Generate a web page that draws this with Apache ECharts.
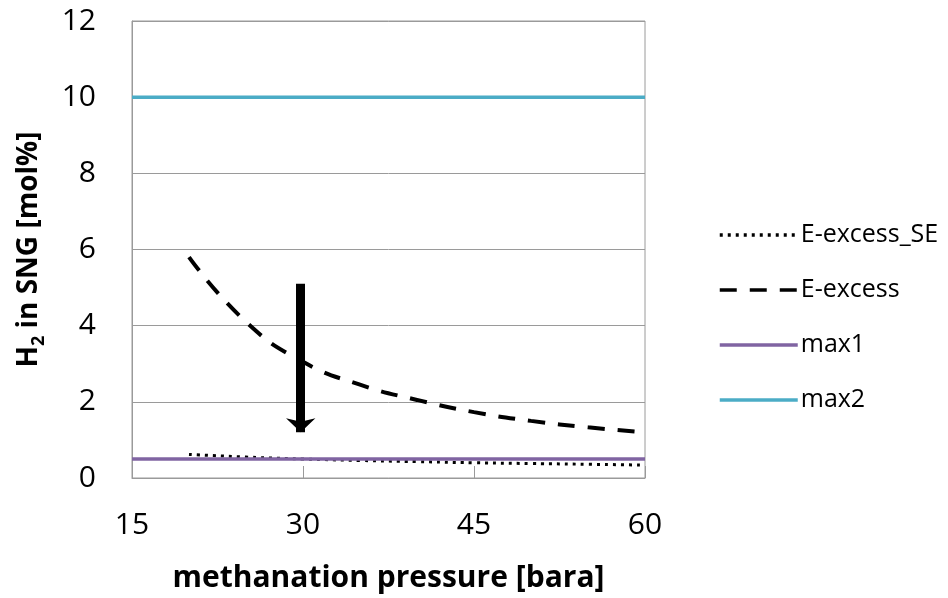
<!DOCTYPE html>
<html><head><meta charset="utf-8">
<script src="https://cdn.jsdelivr.net/npm/echarts@6/dist/echarts.min.js"></script>
<style>html,body{margin:0;padding:0;background:#fff}#c{width:948px;height:598px}</style>
</head><body><div id="c"></div>
<script>
const pressure = [20, 25, 30, 35, 40, 45, 50, 55, 60];
const eExcessSE = [0.62, 0.55, 0.50, 0.46, 0.43, 0.40, 0.38, 0.36, 0.34];
const eExcess = [5.8, 4.1, 3.05, 2.45, 2.05, 1.73, 1.5, 1.33, 1.2];
const max1X = [15, 60];
const max1 = [0.5, 0.5];
const max2X = [15, 60];
const max2 = [10, 10];
const arrowX = [29.8, 29.8];
const arrowY = [5.1, 1.2];
const xTicks = [15, 30, 45, 60];

const F = '"Open Sans", Lato, sans-serif';
const pair = (xs, ys) => xs.map((x, i) => [x, ys[i]]);
const chart = echarts.init(document.getElementById('c'));
chart.setOption({
  animation: false,
  textStyle: { fontFamily: F },
  grid: { left: 132, right: 303, top: 21, bottom: 117, show: true, borderColor: '#9a9a9a', borderWidth: 1 },
  legend: {
    orient: 'vertical', left: 713, top: 215, itemWidth: 78, itemHeight: 20, itemGap: 25,
    textStyle: { fontSize: 25, lineHeight: 30, color: '#000', fontFamily: F, padding: [0, 0, 0, -2] },
    itemStyle: { color: 'transparent', borderColor: 'transparent', borderWidth: 0, opacity: 0 },
    lineStyle: { width: 3.5 },
    data: ['E-excess_SE', 'E-excess', 'max1', 'max2']
  },
  xAxis: {
    type: 'value', min: xTicks[0], max: xTicks[xTicks.length - 1], interval: 15,
    name: 'methanation pressure [bara]', nameLocation: 'middle', nameGap: 85,
    nameTextStyle: { fontSize: 30, fontWeight: 'bold', color: '#000', fontFamily: F },
    axisLine: { lineStyle: { color: '#9a9a9a' } },
    axisTick: { show: true, inside: true, length: 12, lineStyle: { color: '#9a9a9a' } },
    axisLabel: { fontSize: 30, color: '#000', margin: 32 },
    splitLine: { show: false }
  },
  yAxis: {
    type: 'value', min: 0, max: 12, interval: 2,
    name: '{b|H}{s|2}{b| in SNG [mol%]}', nameLocation: 'middle', nameGap: 89, nameRotate: 90,
    nameTextStyle: { rich: {
      b: { fontSize: 28, fontWeight: 'bold', color: '#000', fontFamily: F, verticalAlign: 'bottom' },
      s: { fontSize: 18, fontWeight: 'bold', color: '#000', fontFamily: F, verticalAlign: 'bottom', padding: [0, 0, -5, 0] }
    } },
    axisLine: { show: true, lineStyle: { color: '#9a9a9a' } },
    axisTick: { show: false },
    axisLabel: { fontSize: 30, color: '#000', margin: 36 },
    splitLine: { lineStyle: { color: '#9a9a9a' } }
  },
  series: [
    { name: 'E-excess_SE', type: 'line', data: pair(pressure, eExcessSE), symbol: 'none', smooth: true,
      lineStyle: { color: '#000', width: 3, type: [3, 5] }, itemStyle: { color: '#000' } },
    { name: 'E-excess', type: 'line', data: pair(pressure, eExcess), symbol: 'none', smooth: true,
      lineStyle: { color: '#000', width: 4, type: [17, 13] }, itemStyle: { color: '#000' } },
    { name: 'max1', type: 'line', data: pair(max1X, max1), symbol: 'none',
      lineStyle: { color: '#8064A2', width: 3.5 }, itemStyle: { color: '#8064A2' } },
    { name: 'max2', type: 'line', data: pair(max2X, max2), symbol: 'none',
      lineStyle: { color: '#4BACC6', width: 3.5 }, itemStyle: { color: '#4BACC6' },
      markLine: {
        silent: true, symbol: ['none', 'arrow'], symbolSize: [22, 14], label: { show: false },
        lineStyle: { color: '#000', width: 9, type: 'solid' },
        data: [[{ coord: [arrowX[0], arrowY[0]] }, { coord: [arrowX[1], arrowY[1]] }]]
      } }
  ]
});
</script></body></html>
